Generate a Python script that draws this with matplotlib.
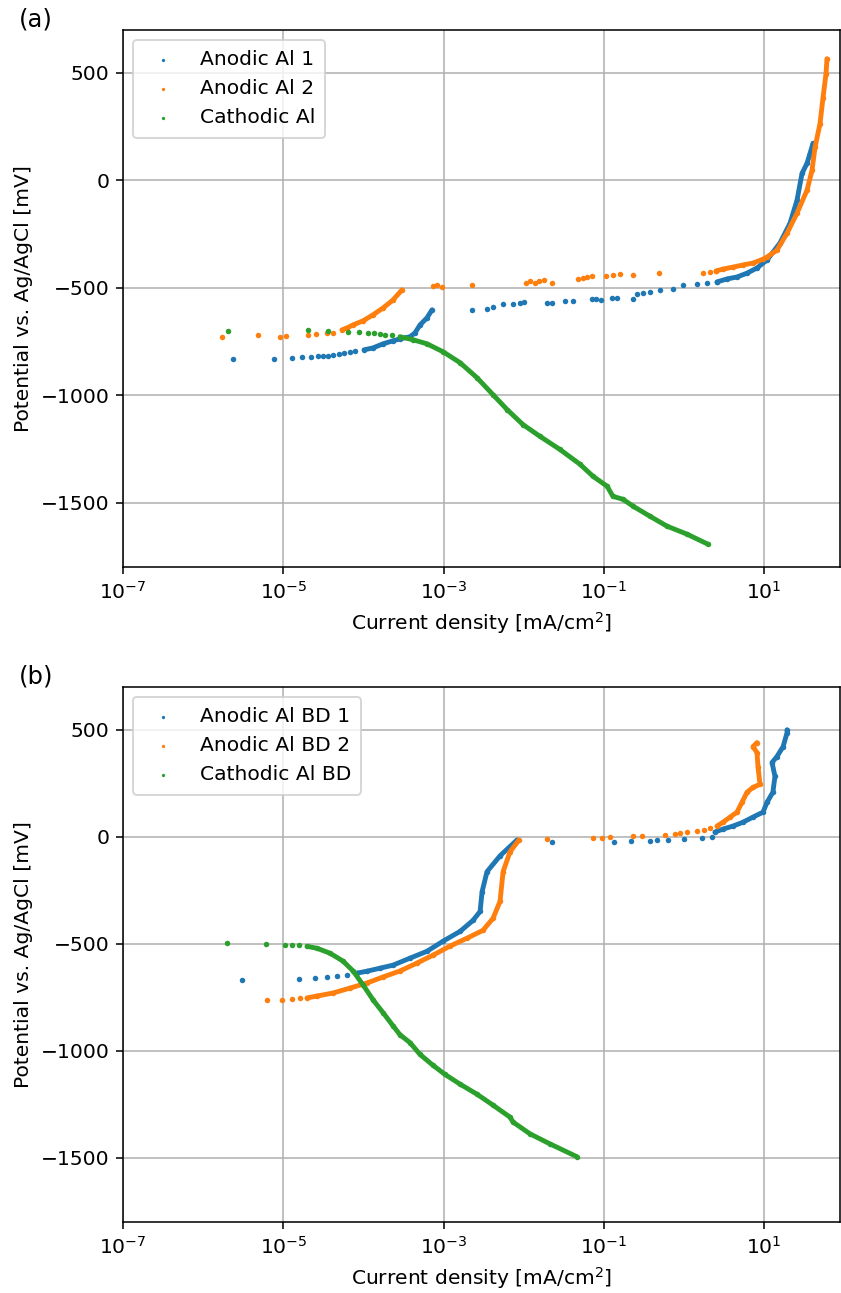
import matplotlib
matplotlib.use("Agg")
import matplotlib.pyplot as plt
from matplotlib.ticker import NullLocator

plt.rcParams["font.size"] = 10.4

# current density [mA/cm2] and potential [mV] read along each polarisation sweep
# *_dots: isolated scattered readings, *_trace: densely sampled part of the sweep

# ---- (a) plain Al ----
a1_dots_i = [2.36e-6, 7.7e-6, 1.29e-5, 1.71e-5, 2.22e-5, 2.72e-5, 3.13e-5, 3.62e-5, 4.18e-5,
             4.97e-5, 5.73e-5, 6.8e-5, 7.9e-5,
             2.27e-3, 3.49e-3, 4.15e-3, 5.54e-3, 7.37e-3, 9.0e-3, 1.01e-2, 1.96e-2, 2.26e-2,
             3.28e-2, 4.13e-2, 7.13e-2, 8.0e-2, 9.24e-2, 0.127, 0.146, 0.232, 0.26, 0.309,
             0.378, 0.504, 0.731, 0.975, 1.46, 1.94, 2.59]
a1_dots_E = [-831, -831, -826, -821, -821, -817, -817, -817, -812,
             -807, -803, -798, -793,
             -603, -599, -589, -575, -575, -571, -566, -571, -571,
             -561, -561, -552, -552, -557, -548, -548, -552, -529, -524,
             -520, -510, -506, -487, -483, -478, -473]
a1_trace_i = [[1.02e-4, 1.32e-4, 1.76e-4, 2.34e-4, 2.86e-4, 3.82e-4, 4.41e-4, 5.09e-4, 6.22e-4, 7.18e-4],
              [2.59, 3.45, 4.6, 6.14, 8.18, 10.9, 15.8, 21.1, 25.8, 29.8, 34.4, 37.5, 40.9]]
a1_trace_E = [[-789, -780, -761, -747, -738, -728, -710, -673, -640, -603],
              [-473, -459, -450, -432, -408, -371, -292, -200, -93, 32, 79, 125, 172]]

a2_dots_i = [1.72e-6, 4.84e-6, 9.1e-6, 1.08e-5, 2.04e-5, 2.56e-5, 3.52e-5, 4.18e-5,
             7.4e-4, 8.3e-4, 9.6e-4, 2.27e-3, 1.07e-2, 1.2e-2, 1.39e-2, 1.56e-2, 1.79e-2,
             2.26e-2, 4.78e-2, 5.51e-2, 6.18e-2, 7.13e-2, 0.107, 0.130, 0.160, 0.232, 0.49,
             1.73, 2.12, 2.52]
a2_dots_E = [-728, -719, -728, -724, -719, -715, -710, -710,
             -492, -487, -496, -487, -478, -469, -478, -469, -464,
             -478, -459, -455, -450, -445, -445, -441, -436, -441, -432,
             -432, -427, -422]
a2_trace_i = [[5.41e-5, 6.25e-5, 7.43e-5, 9.9e-5, 1.32e-4, 1.76e-4, 2.34e-4, 3.03e-4],
              [2.52, 3.08, 4.1, 5.47, 7.29, 9.72, 10.9, 14.5, 19.4, 25.8, 34.4, 39.7, 43.3,
               50.0, 54.5, 59.4, 61.1]]
a2_trace_E = [[-696, -687, -673, -654, -626, -594, -557, -510],
              [-422, -413, -404, -394, -385, -367, -357, -325, -246, -153, -46, 46, 153,
               264, 385, 496, 566]]

ac_dots_i = [2.04e-6, 2.04e-5, 3.62e-5, 6.43e-5, 8.8e-5, 1.14e-4, 1.36e-4, 1.61e-4, 1.86e-4, 2.28e-4]
ac_dots_E = [-701, -696, -701, -705, -705, -710, -710, -715, -719, -719]
ac_trace_i = [[2.86e-4, 4.16e-4, 6.22e-4, 9.86e-4, 1.61e-3, 2.62e-3, 4.15e-3, 6.21e-3, 9.8e-3,
               1.6e-2, 2.84e-2, 5.06e-2, 7.35e-2, 0.11, 0.130, 0.174, 0.232, 0.378, 0.615,
               1.09, 2.0]]
ac_trace_E = [[-728, -742, -761, -798, -849, -919, -998, -1067, -1137,
               -1192, -1253, -1322, -1378, -1424, -1471, -1485, -1517, -1564, -1610,
               -1647, -1694]]

# ---- (b) Al BD ----
b1_dots_i = [3.05e-6, 1.57e-5, 2.49e-5, 3.52e-5, 4.69e-5, 6.25e-5,
             2.26e-2, 0.134, 0.219, 0.378, 0.462, 0.634, 1.0, 1.68, 2.24]
b1_dots_E = [-669, -665, -660, -655, -651, -646,
             -24, -24, -20, -20, -15, -15, -10, -6, -1]
b1_trace_i = [[8.32e-5, 1.11e-4, 1.61e-4, 2.34e-4, 3.82e-4, 6.22e-4, 9.86e-4, 1.61e-3,
               2.33e-3, 2.86e-3, 3.03e-3, 3.49e-3, 5.07e-3, 8.26e-3],
              [2.44, 3.08, 4.1, 5.47, 7.29, 9.72, 10.9, 12.9, 13.7, 12.6, 14.5, 17.3, 19.4, 19.4]]
b1_trace_E = [[-637, -628, -614, -600, -567, -535, -488, -442,
               -391, -349, -256, -163, -89, -15],
              [22, 36, 50, 68, 92, 115, 161, 208, 282, 347, 375, 421, 486, 500]]

b2_dots_i = [6.27e-6, 9.64e-6, 1.29e-5, 1.62e-5,
             1.96e-2, 7.35e-2, 9.5e-2, 0.12, 0.232, 0.30, 0.58, 0.774, 0.895, 1.09, 1.46,
             1.78, 2.12]
b2_dots_E = [-762, -762, -757, -753,
             -10, -6, -6, -1, 3, 3, 8, 13, 17, 22, 27,
             31, 41]
b2_trace_i = [[1.98e-5, 2.64e-5, 4.18e-5, 6.8e-5, 1.11e-4, 1.76e-4, 2.86e-4, 4.67e-4,
               7.4e-4, 1.2e-3, 1.96e-3, 3.11e-3, 4.15e-3, 5.07e-3, 5.54e-3, 6.76e-3, 8.75e-3],
              [2.59, 3.08, 3.77, 4.6, 5.31, 6.14, 7.29, 8.91, 8.41, 8.18, 7.29, 8.18]]
b2_trace_E = [[-753, -744, -730, -707, -683, -655, -627, -590,
               -553, -511, -474, -437, -381, -302, -163, -70, -15],
              [50, 68, 92, 115, 161, 208, 231, 245, 328, 393, 421, 440]]

bc_dots_i = [1.99e-6, 6.1e-6, 1.05e-5, 1.29e-5, 1.57e-5]
bc_dots_E = [-498, -502, -507, -507, -507]
bc_trace_i = [[1.98e-5, 2.64e-5, 3.83e-5, 5.57e-5, 7.43e-5, 9.9e-5, 1.32e-4, 1.76e-4,
               2.34e-4, 2.86e-4, 3.82e-4, 5.09e-4, 7.4e-4, 1.04e-3, 1.61e-3, 2.62e-3,
               4.15e-3, 6.76e-3, 7.37e-3, 1.2e-2, 2.13e-2, 4.63e-2]]
bc_trace_E = [[-512, -521, -544, -581, -627, -692, -762, -822,
               -883, -925, -962, -1017, -1068, -1110, -1156, -1203,
               -1254, -1310, -1333, -1388, -1435, -1495]]

panels = [
    ("(a)", [("Anodic Al 1", a1_dots_i, a1_dots_E, a1_trace_i, a1_trace_E),
             ("Anodic Al 2", a2_dots_i, a2_dots_E, a2_trace_i, a2_trace_E),
             ("Cathodic Al", ac_dots_i, ac_dots_E, ac_trace_i, ac_trace_E)]),
    ("(b)", [("Anodic Al BD 1", b1_dots_i, b1_dots_E, b1_trace_i, b1_trace_E),
             ("Anodic Al BD 2", b2_dots_i, b2_dots_E, b2_trace_i, b2_trace_E),
             ("Cathodic Al BD", bc_dots_i, bc_dots_E, bc_trace_i, bc_trace_E)]),
]
colors = ["#1f77b4", "#ff7f0e", "#2ca02c"]
xticks = [1e-7, 1e-5, 1e-3, 1e-1, 1e1]

fig = plt.figure(figsize=(841 / 140, 1293 / 140), dpi=140)
boxes = [[0.1463, 0.5615, 0.8526, 0.4153], [0.1463, 0.0549, 0.8526, 0.4138]]

for box, (tag, series) in zip(boxes, panels):
    ax = fig.add_axes(box)
    for c, (label, di, dE, ti, tE) in zip(colors, series):
        for seg_i, seg_E in zip(ti, tE):
            ax.plot(seg_i, seg_E, color=c, lw=2.5, solid_capstyle="round",
                    solid_joinstyle="round", zorder=2)
            ax.scatter(seg_i, seg_E, s=8, color=c, linewidths=0, zorder=2)
        ax.scatter(di, dE, s=8, color=c, linewidths=0, label=label, zorder=2)
    ax.set_xscale("log")
    ax.set_xlim(1e-7, 89)
    ax.set_ylim(-1800, 700)
    ax.set_xticks(xticks)
    ax.xaxis.set_minor_locator(NullLocator())
    ax.set_yticks([-1500, -1000, -500, 0, 500])
    ax.grid(True, color="#b0b0b0", lw=0.8)
    ax.set_axisbelow(True)
    ax.set_xlabel("Current density [mA/cm$^2$]")
    ax.set_ylabel("Potential vs. Ag/AgCl [mV]")
    ax.legend(loc="upper left", markerscale=0.6, borderpad=0.5)
    ax.text(-0.145, 1.02, tag, transform=ax.transAxes, fontsize=12.5, va="center", ha="left")

fig.savefig("out.png", dpi=140)
